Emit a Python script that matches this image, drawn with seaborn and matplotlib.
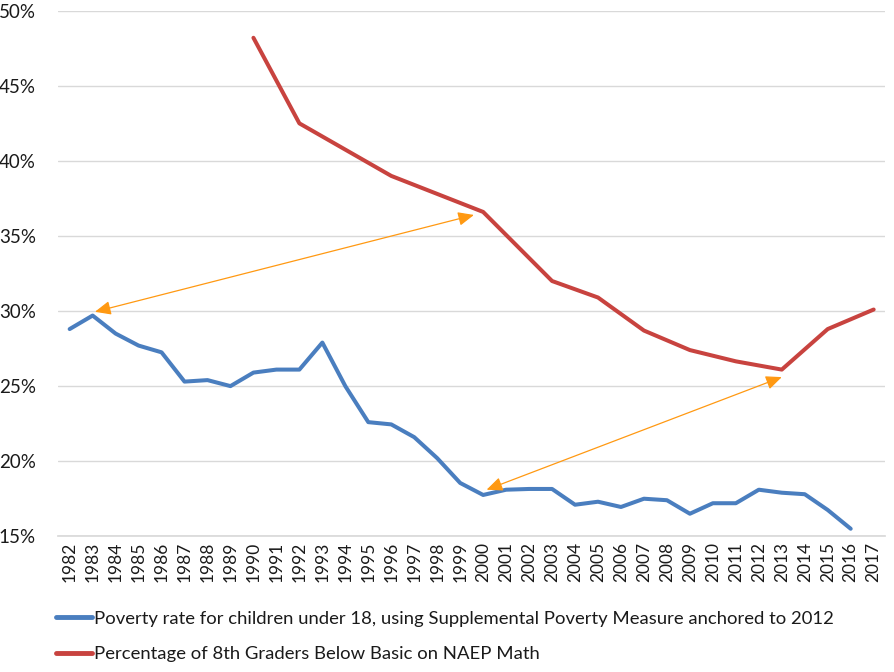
import numpy as np
import pandas as pd
import matplotlib
matplotlib.use("Agg")
import matplotlib.pyplot as plt
import seaborn as sns

years = list(range(1982, 2018))
poverty_years = list(range(1982, 2017))
poverty = [28.8, 29.7, 28.5, 27.7, 27.25, 25.3, 25.4, 25.0, 25.9, 26.1, 26.1, 27.9,
           25.0, 22.6, 22.45, 21.6, 20.2, 18.55, 17.75, 18.1, 18.15, 18.15, 17.1, 17.3,
           16.95, 17.5, 17.4, 16.5, 17.2, 17.2, 18.1, 17.9, 17.8, 16.75, 15.5]
naep_years = [1990, 1992, 1996, 2000, 2003, 2005, 2007, 2009, 2011, 2013, 2015, 2017]
naep = [48.2, 42.5, 39.0, 36.6, 32.0, 30.9, 28.7, 27.4, 26.65, 26.1, 28.8, 30.1]
y_ticks = [15, 20, 25, 30, 35, 40, 45, 50]
label_pov = "Poverty rate for children under 18, using Supplemental Poverty Measure anchored to 2012"
label_naep = "Percentage of 8th Graders Below Basic on NAEP Math"

# arrows: (year_from, value_from) <-> (year_to, value_to)
arrows = [((1983.1, 29.95), (1999.6, 36.4)),
          ((2000.15, 18.1), (2013.0, 25.6))]

sns.set_theme(style="white")
plt.rcParams['font.family'] = ['Lato', 'DejaVu Sans']

fig = plt.figure(figsize=(8.95, 6.72), dpi=100)
ax = fig.add_axes([0.065, 0.202, 0.924, 0.782])

df_p = pd.DataFrame({"x": [years.index(y) for y in poverty_years], "v": poverty})
df_n = pd.DataFrame({"x": [years.index(y) for y in naep_years], "v": naep})
sns.lineplot(data=df_p, x="x", y="v", ax=ax, color="#4A7EBF", linewidth=2.9, label=label_pov)
sns.lineplot(data=df_n, x="x", y="v", ax=ax, color="#C8433F", linewidth=2.9, label=label_naep)

for (x0, y0), (x1, y1) in arrows:
    ax.annotate("", xy=(x1 - 1982, y1), xytext=(x0 - 1982, y0),
                arrowprops=dict(arrowstyle="<|-|>,head_length=0.8,head_width=0.35",
                                color="#FF9912", lw=0.9, shrinkA=0, shrinkB=0))

ax.set_xlim(-0.5, len(years) - 0.5)
ax.set_ylim(15, 50)
ax.set_yticks(y_ticks)
ax.set_yticklabels([f"{t}%" for t in y_ticks], fontsize=13.5, color="#1a1a1a")
ax.set_xticks(range(len(years)))
ax.set_xticklabels([str(y) for y in years], rotation=90, fontsize=12.5, color="#1a1a1a")
ax.tick_params(axis='both', length=0, pad=4)
ax.tick_params(axis='y', pad=16)
ax.grid(axis='y', color="#D9D9D9", linewidth=1)
ax.set_axisbelow(True)
for s in ["top", "right", "left"]:
    ax.spines[s].set_visible(False)
ax.spines["bottom"].set_color("#D9D9D9")
ax.set_xlabel("")
ax.set_ylabel("")

leg = ax.legend(loc="upper left", bbox_to_anchor=(-0.011, -0.128), frameon=False,
                fontsize=13.3, handlelength=1.9, handletextpad=0.15, labelspacing=1.05,
                borderaxespad=0)
for t in leg.get_texts():
    t.set_color("#1a1a1a")
for h in leg.get_lines():
    h.set_linewidth(3.5)

fig.savefig("out.png", dpi=100)
